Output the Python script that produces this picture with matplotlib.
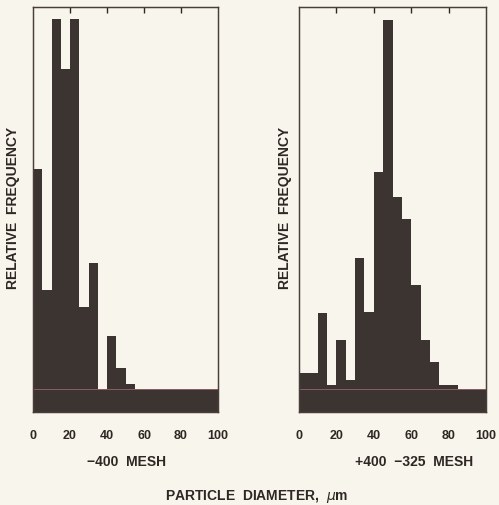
import numpy as np
import matplotlib.pyplot as plt

plt.rcParams['font.family'] = ['Liberation Sans', 'DejaVu Sans']

# ---- data (arbitrary relative-frequency units) ---------------------------
bin_edges = [0, 5, 10, 15, 20, 25, 30, 35, 40, 45, 50, 55, 60, 65, 70, 75,
             80, 85, 90, 95, 100]
freq_400 = [220, 99, 370, 320, 370, 82, 126, 0, 53, 21, 5,
            0, 0, 0, 0, 0, 0, 0, 0, 0]
freq_400_325 = [16, 16, 76, 4, 49, 9, 131, 77, 217, 369, 192, 170,
                104, 49, 27, 4, 4, 0, 0, 0]
x_ticks = [0, 20, 40, 60, 80, 100]
inner_ticks = [20, 40, 60, 80]
panel_titles = ["\u2212400  MESH", "+400  \u2212325  MESH"]

BG = "#f8f6ec"
BAR = "#3b3431"
INK = "#2e2724"
FLOOR = 23       # dark band drawn under the zero line
YTOP = 382
FS_TICK = 9
FS_LAB = 10

W, H = 499, 506
fig = plt.figure(figsize=(W / 100, H / 100), dpi=100, facecolor=BG)


def panel(x0, x1, freqs):
    ax = fig.add_axes([x0 / W, (H - 413) / H, (x1 - x0) / W, (413 - 8) / H])
    ax.set_facecolor(BG)
    edges = np.array(bin_edges)
    ax.bar(edges[:-1], freqs, width=np.diff(edges), align="edge",
           color=BAR, linewidth=0)
    ax.axhspan(-FLOOR, 0, color=BAR, lw=0)
    ax.axhline(0, color="#b07080", lw=0.6, alpha=0.8)
    ax.set_xlim(0, 100)
    ax.set_ylim(-FLOOR, YTOP)
    ax.set_yticks([])
    # labels on major ticks, marks only on the inner (minor) ones
    ax.set_xticks(x_ticks)
    ax.set_xticklabels([str(t) for t in x_ticks], fontsize=FS_TICK,
                       fontweight="bold", color=INK)
    ax.set_xticks(inner_ticks, minor=True)
    ax.tick_params(axis="x", which="major", length=0, pad=12.5)
    ax.tick_params(axis="x", which="minor", direction="out", length=4,
                   width=1.0, color=INK)
    top = ax.twiny()
    top.set_xlim(0, 100)
    top.set_xticks(inner_ticks)
    top.tick_params(axis="x", direction="in", length=4, width=1.0,
                    color=INK, labeltop=False)
    for a in (ax, top):
        for s in a.spines.values():
            s.set_color("#4a3d3a")
            s.set_linewidth(0.9)
    return ax


panel(33, 218, freq_400)
panel(299, 486, freq_400_325)

fig.text(13 / W, 1 - 208 / H, "RELATIVE  FREQUENCY", rotation=90,
         ha="center", va="center", fontsize=FS_LAB, fontweight="bold",
         color=INK)
fig.text(285 / W, 1 - 208 / H, "RELATIVE  FREQUENCY", rotation=90,
         ha="center", va="center", fontsize=FS_LAB, fontweight="bold",
         color=INK)
fig.text(127 / W, 1 - 462 / H, panel_titles[0], ha="center", va="center",
         fontsize=FS_LAB, fontweight="bold", color=INK)
fig.text(414 / W, 1 - 462 / H, panel_titles[1], ha="center", va="center",
         fontsize=FS_LAB, fontweight="bold", color=INK)
fig.text(257 / W, 1 - 497 / H, r"PARTICLE  DIAMETER,  $\mu$m", ha="center",
         va="center", fontsize=FS_LAB, fontweight="bold", color=INK)

fig.savefig("out.png", dpi=100, facecolor=BG)
